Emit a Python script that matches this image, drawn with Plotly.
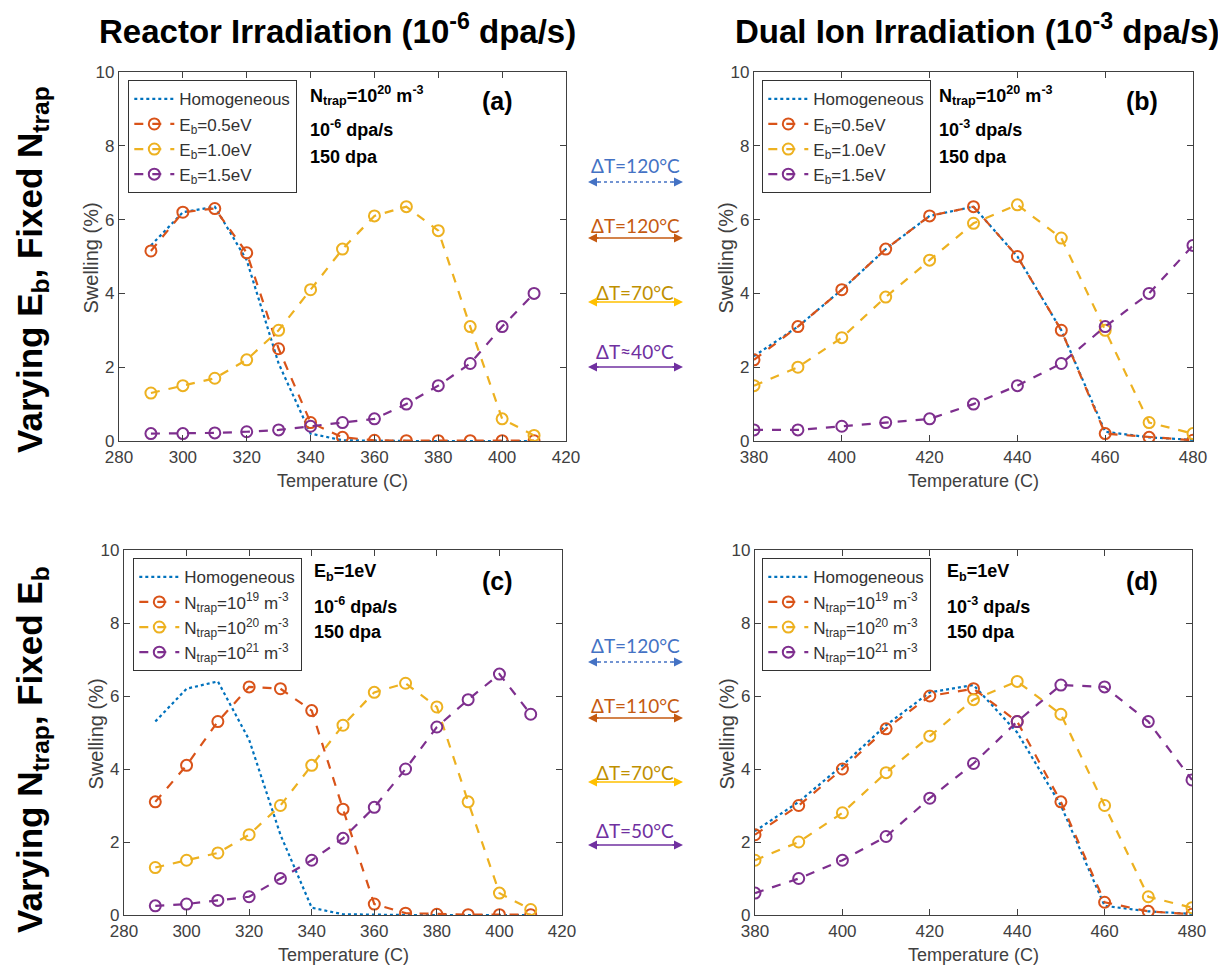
import plotly.graph_objects as go

W, H = 1226, 971

# ---------------- data ----------------
temp_reactor = [290, 300, 310, 320, 330, 340, 350, 360, 370, 380, 390, 400, 410]
temp_ion = [380, 390, 400, 410, 420, 430, 440, 450, 460, 470, 480]

# (a) reactor, varying Eb
a_homog = [5.3, 6.2, 6.35, 4.9, 2.1, 0.2, 0.02, 0.0, 0.0, 0.0, 0.0, 0.0, 0.0]
a_eb05 = [5.15, 6.2, 6.3, 5.1, 2.5, 0.5, 0.1, 0.02, 0.01, 0.01, 0.01, 0.01, 0.01]
a_eb10 = [1.3, 1.5, 1.7, 2.2, 3.0, 4.1, 5.2, 6.1, 6.35, 5.7, 3.1, 0.6, 0.15]
a_eb15 = [0.2, 0.2, 0.22, 0.25, 0.3, 0.4, 0.5, 0.6, 1.0, 1.5, 2.1, 3.1, 4.0]

# (b) dual ion, varying Eb
b_homog = [2.3, 3.1, 4.1, 5.2, 6.1, 6.35, 5.0, 3.0, 0.25, 0.1, 0.03]
b_eb05 = [2.2, 3.1, 4.1, 5.2, 6.1, 6.35, 5.0, 3.0, 0.2, 0.1, 0.02]
b_eb10 = [1.5, 2.0, 2.8, 3.9, 4.9, 5.9, 6.4, 5.5, 3.0, 0.5, 0.2]
b_eb15 = [0.3, 0.3, 0.4, 0.5, 0.6, 1.0, 1.5, 2.1, 3.1, 4.0, 5.3]

# (c) reactor, varying Ntrap
c_homog = [5.3, 6.2, 6.4, 4.8, 2.2, 0.2, 0.02, 0.0, 0.0, 0.0, 0.0, 0.0, 0.0]
c_n19 = [3.1, 4.1, 5.3, 6.25, 6.2, 5.6, 2.9, 0.3, 0.05, 0.02, 0.01, 0.01, 0.01]
c_n20 = [1.3, 1.5, 1.7, 2.2, 3.0, 4.1, 5.2, 6.1, 6.35, 5.7, 3.1, 0.6, 0.15]
c_n21 = [0.25, 0.3, 0.4, 0.5, 1.0, 1.5, 2.1, 2.95, 4.0, 5.15, 5.9, 6.6, 5.5]

# (d) dual ion, varying Ntrap
d_homog = [2.3, 3.1, 4.1, 5.2, 6.1, 6.3, 5.0, 3.0, 0.25, 0.1, 0.03]
d_n19 = [2.2, 3.0, 4.0, 5.1, 6.0, 6.2, 5.3, 3.1, 0.35, 0.1, 0.02]
d_n20 = [1.5, 2.0, 2.8, 3.9, 4.9, 5.9, 6.4, 5.5, 3.0, 0.5, 0.2]
d_n21 = [0.6, 1.0, 1.5, 2.15, 3.2, 4.15, 5.3, 6.3, 6.25, 5.3, 3.7]

names_eb = ["Homogeneous", "E<sub>b</sub>=0.5eV", "E<sub>b</sub>=1.0eV", "E<sub>b</sub>=1.5eV"]
names_n = ["Homogeneous", "N<sub>trap</sub>=10<sup>19</sup> m<sup>-3</sup>",
           "N<sub>trap</sub>=10<sup>20</sup> m<sup>-3</sup>",
           "N<sub>trap</sub>=10<sup>21</sup> m<sup>-3</sup>"]

dt_top = ["ΔT=120°C", "ΔT=120°C", "ΔT=70°C", "ΔT≈40°C"]
dt_bot = ["ΔT=120°C", "ΔT=110°C", "ΔT=70°C", "ΔT=50°C"]

# ---------------- styling ----------------
C_BLUE = "#0072BD"
C_OR = "#D95319"
C_YEL = "#EDB120"
C_PUR = "#7E2F8E"
colors = [C_BLUE, C_OR, C_YEL, C_PUR]

FONT = "Arial, Liberation Sans, sans-serif"
AX = "#404040"
OFF = 8  # page body margin


def X(px):
    return (px - OFF) / W


def Y(py):
    return 1 - (py - OFF) / H


fig = go.Figure()

panels = [
    ("x", "y", temp_reactor, [a_homog, a_eb05, a_eb10, a_eb15], names_eb, "legend",
     [280, 420], (119, 566), (72, 441), (128, 80)),
    ("x2", "y2", temp_ion, [b_homog, b_eb05, b_eb10, b_eb15], names_eb, "legend2",
     [380, 480], (754, 1193), (72, 441), (762, 80)),
    ("x3", "y3", temp_reactor, [c_homog, c_n19, c_n20, c_n21], names_n, "legend3",
     [280, 420], (124, 562), (550, 915), (133, 558)),
    ("x4", "y4", temp_ion, [d_homog, d_n19, d_n20, d_n21], names_n, "legend4",
     [380, 480], (755, 1192), (550, 915), (762, 558)),
]

ann = []
layout_upd = {}
for i, (xa, ya, t, series, names, leg, xr, xd, yd, lp) in enumerate(panels):
    for k, (s, nm) in enumerate(zip(series, names)):
        if k == 0:
            tr = go.Scatter(x=t, y=s, name=nm, mode="lines",
                            line=dict(color=colors[k], width=2.2, dash="dot"),
                            xaxis=xa, yaxis=ya, legend=leg)
        else:
            tr = go.Scatter(x=t, y=s, name=nm, mode="lines+markers",
                            line=dict(color=colors[k], width=2.2, dash="dash"),
                            marker=dict(symbol="circle-open", size=11,
                                        line=dict(width=2, color=colors[k])),
                            xaxis=xa, yaxis=ya, legend=leg)
        fig.add_trace(tr)
    suffix = "" if i == 0 else str(i + 1)
    layout_upd["xaxis" + suffix] = dict(
        domain=[X(xd[0]), X(xd[1])], range=xr, dtick=20, tick0=280 if xr[0] == 280 else 380,
        anchor=ya, showline=True, mirror="ticks", linecolor=AX, linewidth=1.3,
        ticks="inside", ticklen=6, tickcolor=AX, showgrid=False, zeroline=False,
        tickfont=dict(size=17, color=AX, family=FONT))
    layout_upd["yaxis" + suffix] = dict(
        domain=[Y(yd[1]), Y(yd[0])], range=[0, 10], dtick=2,
        anchor=xa, showline=True, mirror="ticks", linecolor=AX, linewidth=1.3,
        ticks="inside", ticklen=6, tickcolor=AX, showgrid=False, zeroline=False,
        tickfont=dict(size=17, color=AX, family=FONT))
    layout_upd[leg] = dict(x=X(lp[0]), y=Y(lp[1]), xanchor="left", yanchor="top",
                           bgcolor="white", bordercolor="#333333", borderwidth=1.3,
                           font=dict(size=17, color="#333333", family=FONT),
                           itemwidth=40, tracegroupgap=0)
    ann.append(dict(text="Temperature (C)", x=X((xd[0] + xd[1]) / 2), y=Y(yd[1] + 40),
                    font=dict(size=18, color=AX, family=FONT)))
    ann.append(dict(text="Swelling (%)", x=X(xd[0] - 29), y=Y((yd[0] + yd[1]) / 2 + 2),
                    textangle=-90, font=dict(size=20, color=AX, family=FONT)))

fig.update_layout(**layout_upd)

ann.append(dict(text="<b>Reactor Irradiation (10<sup>-6</sup> dpa/s)</b>", x=X(337), y=Y(29),
                font=dict(size=33, color="black", family=FONT)))
ann.append(dict(text="<b>Dual Ion Irradiation (10<sup>-3</sup> dpa/s)</b>", x=X(977), y=Y(29),
                font=dict(size=33, color="black", family=FONT)))
ann.append(dict(text="<b>Varying E<sub>b</sub>, Fixed N<sub>trap</sub></b>", x=X(32), y=Y(270),
                textangle=-90, font=dict(size=35, color="black", family=FONT)))
ann.append(dict(text="<b>Varying N<sub>trap</sub>, Fixed E<sub>b</sub></b>", x=X(32), y=Y(750),
                textangle=-90, font=dict(size=35, color="black", family=FONT)))
for lab, px, py in [("(a)", 497, 101), ("(b)", 1142, 101), ("(c)", 497, 581), ("(d)", 1142, 581)]:
    ann.append(dict(text="<b>%s</b>" % lab, x=X(px), y=Y(py),
                    font=dict(size=25, color="black", family=FONT)))
blocks = [
    (308, [(95, "N<sub>trap</sub>=10<sup>20</sup> m<sup>-3</sup>"), (128, "10<sup>-6</sup> dpa/s"), (157, "150 dpa")]),
    (937, [(95, "N<sub>trap</sub>=10<sup>20</sup> m<sup>-3</sup>"), (128, "10<sup>-3</sup> dpa/s"), (157, "150 dpa")]),
    (312, [(572, "E<sub>b</sub>=1eV"), (605, "10<sup>-6</sup> dpa/s"), (632, "150 dpa")]),
    (945, [(572, "E<sub>b</sub>=1eV"), (605, "10<sup>-3</sup> dpa/s"), (632, "150 dpa")]),
]
for px, lines in blocks:
    for py, txt in lines:
        ann.append(dict(text="<b>%s</b>" % txt, x=X(px), y=Y(py), xanchor="left",
                        font=dict(size=18, color="black", family=FONT)))

dt_text_col = ["#4472C4", "#C55A11", "#BF9000", "#7030A0"]
dt_arrow_col = ["#4472C4", "#C55A11", "#FFC000", "#7030A0"]
shapes = []
for labels, text_y, arr_y in [(dt_top, [165, 225, 292, 352], [182, 238, 302, 367]),
                              (dt_bot, [645, 705, 772, 830], [662, 718, 782, 845])]:
    for k, lab in enumerate(labels):
        ann.append(dict(text=lab, x=X(635), y=Y(text_y[k]),
                        font=dict(size=19, color=dt_text_col[k], family="Lato, Open Sans, sans-serif")))
        shapes.append(dict(type="line", xref="paper", yref="paper",
                           x0=X(592), x1=X(679), y0=Y(arr_y[k]), y1=Y(arr_y[k]),
                           line=dict(color=dt_arrow_col[k], width=1.3,
                                     dash="dot" if k == 0 else "solid")))
        for head, off in [(683, -12), (588, 12)]:
            ann.append(dict(text="", x=X(head), y=Y(arr_y[k]), ax=off, ay=0,
                            showarrow=True, arrowhead=2, arrowsize=1.2, arrowwidth=1.5,
                            arrowcolor=dt_arrow_col[k]))

for a in ann:
    a.setdefault("xref", "paper")
    a.setdefault("yref", "paper")
    a.setdefault("showarrow", False)
    a.setdefault("xanchor", "center")
    a.setdefault("yanchor", "middle")

fig.update_layout(annotations=ann, shapes=shapes, width=W, height=H,
                  margin=dict(l=0, r=0, t=0, b=0, autoexpand=False), plot_bgcolor="white",
                  paper_bgcolor="white", font=dict(family=FONT))

fig.write_html("out.html")
